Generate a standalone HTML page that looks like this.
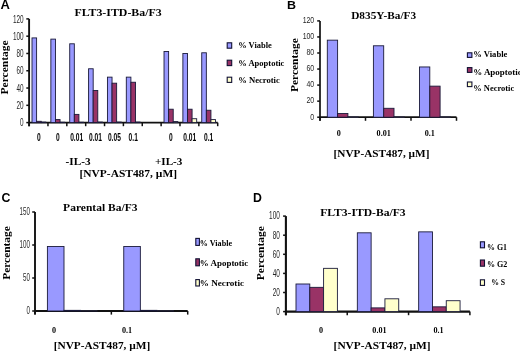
<!DOCTYPE html>
<html><head><meta charset="utf-8"><style>
html,body{margin:0;padding:0;background:#fff;}
body{width:520px;height:352px;overflow:hidden;}
svg{display:block;filter:blur(0.3px);}
</style></head><body>
<svg width="520" height="352" viewBox="0 0 520 352">
<rect width="520" height="352" fill="#fff"/>
<text x="0.60" y="9.40" font-family='"Liberation Sans", sans-serif' font-size="13" font-weight="bold">A</text>
<text x="74.40" y="15.80" font-family='"Liberation Serif", serif' font-size="10.2" font-weight="bold" textLength="87.30" lengthAdjust="spacingAndGlyphs">FLT3-ITD-Ba/F3</text>
<text transform="translate(7.90,94.40) rotate(-90)" x="0" y="0" font-family='"Liberation Serif", serif' font-size="9.8" font-weight="bold" textLength="54.00" lengthAdjust="spacingAndGlyphs">Percentage</text>
<line x1="29.10" y1="18.90" x2="29.10" y2="126.20" stroke="#111" stroke-width="1.9"/>
<line x1="29.10" y1="122.60" x2="217.70" y2="122.60" stroke="#111" stroke-width="1.9"/>
<line x1="26.30" y1="122.60" x2="29.10" y2="122.60" stroke="#111" stroke-width="1.5"/>
<text x="20.05" y="126.32" font-family='"Liberation Sans", sans-serif' font-size="10.2" textLength="3.55" lengthAdjust="spacingAndGlyphs" fill="#262626">0</text>
<line x1="26.30" y1="105.32" x2="29.10" y2="105.32" stroke="#111" stroke-width="1.5"/>
<text x="16.50" y="109.04" font-family='"Liberation Sans", sans-serif' font-size="10.2" textLength="7.10" lengthAdjust="spacingAndGlyphs" fill="#262626">20</text>
<line x1="26.30" y1="88.03" x2="29.10" y2="88.03" stroke="#111" stroke-width="1.5"/>
<text x="16.50" y="91.75" font-family='"Liberation Sans", sans-serif' font-size="10.2" textLength="7.10" lengthAdjust="spacingAndGlyphs" fill="#262626">40</text>
<line x1="26.30" y1="70.75" x2="29.10" y2="70.75" stroke="#111" stroke-width="1.5"/>
<text x="16.50" y="74.47" font-family='"Liberation Sans", sans-serif' font-size="10.2" textLength="7.10" lengthAdjust="spacingAndGlyphs" fill="#262626">60</text>
<line x1="26.30" y1="53.47" x2="29.10" y2="53.47" stroke="#111" stroke-width="1.5"/>
<text x="16.50" y="57.19" font-family='"Liberation Sans", sans-serif' font-size="10.2" textLength="7.10" lengthAdjust="spacingAndGlyphs" fill="#262626">80</text>
<line x1="26.30" y1="36.18" x2="29.10" y2="36.18" stroke="#111" stroke-width="1.5"/>
<text x="12.95" y="39.90" font-family='"Liberation Sans", sans-serif' font-size="10.2" textLength="10.65" lengthAdjust="spacingAndGlyphs" fill="#262626">100</text>
<line x1="26.30" y1="18.90" x2="29.10" y2="18.90" stroke="#111" stroke-width="1.5"/>
<text x="12.95" y="22.62" font-family='"Liberation Sans", sans-serif' font-size="10.2" textLength="10.65" lengthAdjust="spacingAndGlyphs" fill="#262626">120</text>
<line x1="29.10" y1="122.60" x2="29.10" y2="126.20" stroke="#111" stroke-width="1.5"/>
<line x1="47.96" y1="122.60" x2="47.96" y2="126.20" stroke="#111" stroke-width="1.5"/>
<line x1="66.82" y1="122.60" x2="66.82" y2="126.20" stroke="#111" stroke-width="1.5"/>
<line x1="85.68" y1="122.60" x2="85.68" y2="126.20" stroke="#111" stroke-width="1.5"/>
<line x1="104.54" y1="122.60" x2="104.54" y2="126.20" stroke="#111" stroke-width="1.5"/>
<line x1="123.40" y1="122.60" x2="123.40" y2="126.20" stroke="#111" stroke-width="1.5"/>
<line x1="142.26" y1="122.60" x2="142.26" y2="126.20" stroke="#111" stroke-width="1.5"/>
<line x1="161.12" y1="122.60" x2="161.12" y2="126.20" stroke="#111" stroke-width="1.5"/>
<line x1="179.98" y1="122.60" x2="179.98" y2="126.20" stroke="#111" stroke-width="1.5"/>
<line x1="198.84" y1="122.60" x2="198.84" y2="126.20" stroke="#111" stroke-width="1.5"/>
<line x1="217.70" y1="122.60" x2="217.70" y2="126.20" stroke="#111" stroke-width="1.5"/>
<rect x="32.00" y="37.91" width="4.60" height="84.69" fill="#9999FF" stroke="#1a1a3a" stroke-width="0.9"/>
<rect x="36.60" y="121.30" width="4.60" height="1.30" fill="#993366" stroke="#1a1a3a" stroke-width="0.9"/>
<rect x="41.20" y="122.08" width="4.60" height="0.52" fill="#FFFFCC" stroke="#1a1a3a" stroke-width="0.9"/>
<rect x="50.86" y="39.12" width="4.60" height="83.48" fill="#9999FF" stroke="#1a1a3a" stroke-width="0.9"/>
<rect x="55.46" y="119.58" width="4.60" height="3.02" fill="#993366" stroke="#1a1a3a" stroke-width="0.9"/>
<rect x="60.06" y="122.25" width="4.60" height="0.35" fill="#FFFFCC" stroke="#1a1a3a" stroke-width="0.9"/>
<rect x="69.72" y="43.79" width="4.60" height="78.81" fill="#9999FF" stroke="#1a1a3a" stroke-width="0.9"/>
<rect x="74.32" y="114.39" width="4.60" height="8.21" fill="#993366" stroke="#1a1a3a" stroke-width="0.9"/>
<rect x="78.92" y="122.25" width="4.60" height="0.35" fill="#FFFFCC" stroke="#1a1a3a" stroke-width="0.9"/>
<rect x="88.58" y="68.76" width="4.60" height="53.84" fill="#9999FF" stroke="#1a1a3a" stroke-width="0.9"/>
<rect x="93.18" y="90.45" width="4.60" height="32.15" fill="#993366" stroke="#1a1a3a" stroke-width="0.9"/>
<rect x="97.78" y="122.08" width="4.60" height="0.52" fill="#FFFFCC" stroke="#1a1a3a" stroke-width="0.9"/>
<rect x="107.44" y="77.14" width="4.60" height="45.46" fill="#9999FF" stroke="#1a1a3a" stroke-width="0.9"/>
<rect x="112.04" y="83.19" width="4.60" height="39.41" fill="#993366" stroke="#1a1a3a" stroke-width="0.9"/>
<rect x="116.64" y="122.08" width="4.60" height="0.52" fill="#FFFFCC" stroke="#1a1a3a" stroke-width="0.9"/>
<rect x="126.30" y="77.14" width="4.60" height="45.46" fill="#9999FF" stroke="#1a1a3a" stroke-width="0.9"/>
<rect x="130.90" y="82.24" width="4.60" height="40.36" fill="#993366" stroke="#1a1a3a" stroke-width="0.9"/>
<rect x="135.50" y="122.08" width="4.60" height="0.52" fill="#FFFFCC" stroke="#1a1a3a" stroke-width="0.9"/>
<rect x="164.02" y="51.48" width="4.60" height="71.12" fill="#9999FF" stroke="#1a1a3a" stroke-width="0.9"/>
<rect x="168.62" y="109.21" width="4.60" height="13.39" fill="#993366" stroke="#1a1a3a" stroke-width="0.9"/>
<rect x="173.22" y="121.56" width="4.60" height="1.04" fill="#FFFFCC" stroke="#1a1a3a" stroke-width="0.9"/>
<rect x="182.88" y="53.47" width="4.60" height="69.13" fill="#9999FF" stroke="#1a1a3a" stroke-width="0.9"/>
<rect x="187.48" y="109.21" width="4.60" height="13.39" fill="#993366" stroke="#1a1a3a" stroke-width="0.9"/>
<rect x="192.08" y="118.71" width="4.60" height="3.89" fill="#FFFFCC" stroke="#1a1a3a" stroke-width="0.9"/>
<rect x="201.74" y="52.78" width="4.60" height="69.82" fill="#9999FF" stroke="#1a1a3a" stroke-width="0.9"/>
<rect x="206.34" y="110.24" width="4.60" height="12.36" fill="#993366" stroke="#1a1a3a" stroke-width="0.9"/>
<rect x="210.94" y="119.58" width="4.60" height="3.02" fill="#FFFFCC" stroke="#1a1a3a" stroke-width="0.9"/>
<text x="37.08" y="141.30" font-family='"Liberation Sans", sans-serif' font-size="10.3" font-weight="bold" textLength="3.69" lengthAdjust="spacingAndGlyphs">0</text>
<text x="55.94" y="141.30" font-family='"Liberation Sans", sans-serif' font-size="10.3" font-weight="bold" textLength="3.69" lengthAdjust="spacingAndGlyphs">0</text>
<text x="70.18" y="141.30" font-family='"Liberation Sans", sans-serif' font-size="10.3" font-weight="bold" textLength="12.93" lengthAdjust="spacingAndGlyphs">0.01</text>
<text x="89.04" y="141.30" font-family='"Liberation Sans", sans-serif' font-size="10.3" font-weight="bold" textLength="12.93" lengthAdjust="spacingAndGlyphs">0.01</text>
<text x="107.90" y="141.30" font-family='"Liberation Sans", sans-serif' font-size="10.3" font-weight="bold" textLength="12.93" lengthAdjust="spacingAndGlyphs">0.05</text>
<text x="128.61" y="141.30" font-family='"Liberation Sans", sans-serif' font-size="10.3" font-weight="bold" textLength="9.24" lengthAdjust="spacingAndGlyphs">0.1</text>
<text x="169.10" y="141.30" font-family='"Liberation Sans", sans-serif' font-size="10.3" font-weight="bold" textLength="3.69" lengthAdjust="spacingAndGlyphs">0</text>
<text x="183.34" y="141.30" font-family='"Liberation Sans", sans-serif' font-size="10.3" font-weight="bold" textLength="12.93" lengthAdjust="spacingAndGlyphs">0.01</text>
<text x="204.05" y="141.30" font-family='"Liberation Sans", sans-serif' font-size="10.3" font-weight="bold" textLength="9.24" lengthAdjust="spacingAndGlyphs">0.1</text>
<rect x="227.20" y="42.80" width="4.50" height="5.40" fill="#9999FF" stroke="#111133" stroke-width="1.1"/>
<text x="238.20" y="48.10" font-family='"Liberation Serif", serif' font-size="8.8" font-weight="bold" textLength="33.60" lengthAdjust="spacingAndGlyphs">% Viable</text>
<rect x="227.20" y="60.20" width="4.50" height="5.40" fill="#993366" stroke="#111133" stroke-width="1.1"/>
<text x="238.20" y="65.80" font-family='"Liberation Serif", serif' font-size="8.8" font-weight="bold" textLength="46.20" lengthAdjust="spacingAndGlyphs">% Apoptotic</text>
<rect x="227.20" y="77.20" width="4.50" height="5.20" fill="#FFFFCC" stroke="#111133" stroke-width="1.1"/>
<text x="238.20" y="83.40" font-family='"Liberation Serif", serif' font-size="8.8" font-weight="bold" textLength="41.60" lengthAdjust="spacingAndGlyphs">% Necrotic</text>
<text x="65.60" y="164.60" font-family='"Liberation Serif", serif' font-size="10.4" font-weight="bold" textLength="25.00" lengthAdjust="spacingAndGlyphs">-IL-3</text>
<text x="155.00" y="164.60" font-family='"Liberation Serif", serif' font-size="10.4" font-weight="bold" textLength="27.40" lengthAdjust="spacingAndGlyphs">+IL-3</text>
<text x="79.50" y="176.60" font-family='"Liberation Serif", serif' font-size="11.0" font-weight="bold" textLength="97.50" lengthAdjust="spacingAndGlyphs">[NVP-AST487, µM]</text>
<text x="287.00" y="9.30" font-family='"Liberation Sans", sans-serif' font-size="10.5" font-weight="bold" textLength="9.00" lengthAdjust="spacingAndGlyphs">B</text>
<text x="351.20" y="18.70" font-family='"Liberation Serif", serif' font-size="10.4" font-weight="bold" textLength="64.90" lengthAdjust="spacingAndGlyphs">D835Y-Ba/F3</text>
<text transform="translate(298.10,91.90) rotate(-90)" x="0" y="0" font-family='"Liberation Serif", serif' font-size="9.8" font-weight="bold" textLength="53.60" lengthAdjust="spacingAndGlyphs">Percentage</text>
<line x1="320.00" y1="20.90" x2="320.00" y2="120.80" stroke="#111" stroke-width="1.7"/>
<line x1="320.00" y1="117.20" x2="456.50" y2="117.20" stroke="#111" stroke-width="1.7"/>
<line x1="317.20" y1="117.20" x2="320.00" y2="117.20" stroke="#111" stroke-width="1.5"/>
<text x="310.35" y="119.54" font-family='"Liberation Sans", sans-serif' font-size="9.4" textLength="3.85" lengthAdjust="spacingAndGlyphs" fill="#262626">0</text>
<line x1="317.20" y1="101.15" x2="320.00" y2="101.15" stroke="#111" stroke-width="1.5"/>
<text x="306.50" y="103.49" font-family='"Liberation Sans", sans-serif' font-size="9.4" textLength="7.70" lengthAdjust="spacingAndGlyphs" fill="#262626">20</text>
<line x1="317.20" y1="85.10" x2="320.00" y2="85.10" stroke="#111" stroke-width="1.5"/>
<text x="306.50" y="87.44" font-family='"Liberation Sans", sans-serif' font-size="9.4" textLength="7.70" lengthAdjust="spacingAndGlyphs" fill="#262626">40</text>
<line x1="317.20" y1="69.05" x2="320.00" y2="69.05" stroke="#111" stroke-width="1.5"/>
<text x="306.50" y="71.39" font-family='"Liberation Sans", sans-serif' font-size="9.4" textLength="7.70" lengthAdjust="spacingAndGlyphs" fill="#262626">60</text>
<line x1="317.20" y1="53.00" x2="320.00" y2="53.00" stroke="#111" stroke-width="1.5"/>
<text x="306.50" y="55.34" font-family='"Liberation Sans", sans-serif' font-size="9.4" textLength="7.70" lengthAdjust="spacingAndGlyphs" fill="#262626">80</text>
<line x1="317.20" y1="36.95" x2="320.00" y2="36.95" stroke="#111" stroke-width="1.5"/>
<text x="302.65" y="39.29" font-family='"Liberation Sans", sans-serif' font-size="9.4" textLength="11.55" lengthAdjust="spacingAndGlyphs" fill="#262626">100</text>
<line x1="317.20" y1="20.90" x2="320.00" y2="20.90" stroke="#111" stroke-width="1.5"/>
<text x="302.65" y="23.24" font-family='"Liberation Sans", sans-serif' font-size="9.4" textLength="11.55" lengthAdjust="spacingAndGlyphs" fill="#262626">120</text>
<line x1="320.00" y1="117.20" x2="320.00" y2="120.80" stroke="#111" stroke-width="1.5"/>
<line x1="365.50" y1="117.20" x2="365.50" y2="120.80" stroke="#111" stroke-width="1.5"/>
<line x1="411.00" y1="117.20" x2="411.00" y2="120.80" stroke="#111" stroke-width="1.5"/>
<line x1="456.50" y1="117.20" x2="456.50" y2="120.80" stroke="#111" stroke-width="1.5"/>
<rect x="327.30" y="40.16" width="10.30" height="77.04" fill="#9999FF" stroke="#1a1a3a" stroke-width="0.9"/>
<rect x="337.60" y="113.51" width="10.30" height="3.69" fill="#993366" stroke="#1a1a3a" stroke-width="0.9"/>
<rect x="347.90" y="116.96" width="10.30" height="0.24" fill="#FFFFCC" stroke="#1a1a3a" stroke-width="0.9"/>
<rect x="373.40" y="45.78" width="10.30" height="71.42" fill="#9999FF" stroke="#1a1a3a" stroke-width="0.9"/>
<rect x="383.70" y="108.29" width="10.30" height="8.91" fill="#993366" stroke="#1a1a3a" stroke-width="0.9"/>
<rect x="394.00" y="116.96" width="10.30" height="0.24" fill="#FFFFCC" stroke="#1a1a3a" stroke-width="0.9"/>
<rect x="419.50" y="66.96" width="10.30" height="50.24" fill="#9999FF" stroke="#1a1a3a" stroke-width="0.9"/>
<rect x="429.80" y="86.14" width="10.30" height="31.06" fill="#993366" stroke="#1a1a3a" stroke-width="0.9"/>
<rect x="440.10" y="116.96" width="10.30" height="0.24" fill="#FFFFCC" stroke="#1a1a3a" stroke-width="0.9"/>
<text x="336.77" y="135.90" font-family='"Liberation Serif", serif' font-size="7.9" font-weight="bold" textLength="4.07" lengthAdjust="spacingAndGlyphs">0</text>
<text x="376.58" y="135.90" font-family='"Liberation Serif", serif' font-size="7.9" font-weight="bold" textLength="14.24" lengthAdjust="spacingAndGlyphs">0.01</text>
<text x="424.71" y="135.90" font-family='"Liberation Serif", serif' font-size="7.9" font-weight="bold" textLength="10.17" lengthAdjust="spacingAndGlyphs">0.1</text>
<rect x="467.40" y="52.80" width="4.50" height="4.60" fill="#9999FF" stroke="#111133" stroke-width="1.1"/>
<text x="473.20" y="56.90" font-family='"Liberation Serif", serif' font-size="8.8" font-weight="bold" textLength="34.20" lengthAdjust="spacingAndGlyphs">% Viable</text>
<rect x="467.40" y="67.60" width="4.50" height="4.80" fill="#993366" stroke="#111133" stroke-width="1.1"/>
<text x="473.20" y="74.90" font-family='"Liberation Serif", serif' font-size="8.8" font-weight="bold" textLength="48.50" lengthAdjust="spacingAndGlyphs">% Apoptotic</text>
<rect x="467.40" y="82.00" width="4.50" height="4.60" fill="#FFFFCC" stroke="#111133" stroke-width="1.1"/>
<text x="473.20" y="91.30" font-family='"Liberation Serif", serif' font-size="8.8" font-weight="bold" textLength="41.00" lengthAdjust="spacingAndGlyphs">% Necrotic</text>
<text x="333.60" y="157.40" font-family='"Liberation Serif", serif' font-size="11.3" font-weight="bold" textLength="95.80" lengthAdjust="spacingAndGlyphs">[NVP-AST487, µM]</text>
<text x="1.40" y="202.30" font-family='"Liberation Sans", sans-serif' font-size="12.3" font-weight="bold">C</text>
<text x="63.10" y="211.40" font-family='"Liberation Serif", serif' font-size="11.4" font-weight="bold" textLength="74.40" lengthAdjust="spacingAndGlyphs">Parental Ba/F3</text>
<text transform="translate(10.30,279.80) rotate(-90)" x="0" y="0" font-family='"Liberation Serif", serif' font-size="9.8" font-weight="bold" textLength="53.60" lengthAdjust="spacingAndGlyphs">Percentage</text>
<line x1="35.00" y1="212.00" x2="35.00" y2="314.60" stroke="#111" stroke-width="1.9"/>
<line x1="35.00" y1="311.00" x2="187.70" y2="311.00" stroke="#111" stroke-width="1.9"/>
<line x1="32.20" y1="311.00" x2="35.00" y2="311.00" stroke="#111" stroke-width="1.5"/>
<text x="26.45" y="314.40" font-family='"Liberation Sans", sans-serif' font-size="11.0" textLength="3.45" lengthAdjust="spacingAndGlyphs" fill="#262626">0</text>
<line x1="32.20" y1="278.00" x2="35.00" y2="278.00" stroke="#111" stroke-width="1.5"/>
<text x="23.00" y="281.40" font-family='"Liberation Sans", sans-serif' font-size="11.0" textLength="6.90" lengthAdjust="spacingAndGlyphs" fill="#262626">50</text>
<line x1="32.20" y1="245.00" x2="35.00" y2="245.00" stroke="#111" stroke-width="1.5"/>
<text x="19.55" y="248.41" font-family='"Liberation Sans", sans-serif' font-size="11.0" textLength="10.35" lengthAdjust="spacingAndGlyphs" fill="#262626">100</text>
<line x1="32.20" y1="212.00" x2="35.00" y2="212.00" stroke="#111" stroke-width="1.5"/>
<text x="19.55" y="215.41" font-family='"Liberation Sans", sans-serif' font-size="11.0" textLength="10.35" lengthAdjust="spacingAndGlyphs" fill="#262626">150</text>
<line x1="35.00" y1="311.00" x2="35.00" y2="314.60" stroke="#111" stroke-width="1.5"/>
<line x1="111.35" y1="311.00" x2="111.35" y2="314.60" stroke="#111" stroke-width="1.5"/>
<line x1="187.70" y1="311.00" x2="187.70" y2="314.60" stroke="#111" stroke-width="1.5"/>
<rect x="47.40" y="246.52" width="16.60" height="64.48" fill="#9999FF" stroke="#1a1a3a" stroke-width="0.9"/>
<rect x="64.00" y="310.34" width="16.60" height="0.66" fill="#993366" stroke="#1a1a3a" stroke-width="0.9"/>
<rect x="80.60" y="310.87" width="16.60" height="0.13" fill="#FFFFCC" stroke="#1a1a3a" stroke-width="0.9"/>
<rect x="123.75" y="246.52" width="16.60" height="64.48" fill="#9999FF" stroke="#1a1a3a" stroke-width="0.9"/>
<rect x="140.35" y="310.34" width="16.60" height="0.66" fill="#993366" stroke="#1a1a3a" stroke-width="0.9"/>
<rect x="156.95" y="310.87" width="16.60" height="0.13" fill="#FFFFCC" stroke="#1a1a3a" stroke-width="0.9"/>
<text x="52.02" y="332.70" font-family='"Liberation Serif", serif' font-size="7.9" font-weight="bold" textLength="4.07" lengthAdjust="spacingAndGlyphs">0</text>
<text x="121.91" y="332.70" font-family='"Liberation Serif", serif' font-size="7.9" font-weight="bold" textLength="10.17" lengthAdjust="spacingAndGlyphs">0.1</text>
<rect x="195.80" y="238.40" width="3.60" height="7.00" fill="#9999FF" stroke="#111133" stroke-width="1.1"/>
<text x="199.80" y="245.50" font-family='"Liberation Serif", serif' font-size="8.2" font-weight="bold" textLength="32.20" lengthAdjust="spacingAndGlyphs">% Viable</text>
<rect x="195.80" y="258.80" width="3.60" height="7.00" fill="#993366" stroke="#111133" stroke-width="1.1"/>
<text x="199.80" y="266.00" font-family='"Liberation Serif", serif' font-size="8.2" font-weight="bold" textLength="48.50" lengthAdjust="spacingAndGlyphs">% Apoptotic</text>
<rect x="195.80" y="279.60" width="3.60" height="6.40" fill="#FFFFCC" stroke="#111133" stroke-width="1.1"/>
<text x="199.80" y="286.20" font-family='"Liberation Serif", serif' font-size="8.2" font-weight="bold" textLength="44.20" lengthAdjust="spacingAndGlyphs">% Necrotic</text>
<text x="53.70" y="348.60" font-family='"Liberation Serif", serif' font-size="11.3" font-weight="bold" textLength="96.60" lengthAdjust="spacingAndGlyphs">[NVP-AST487, µM]</text>
<text x="253.00" y="202.30" font-family='"Liberation Sans", sans-serif' font-size="12.3" font-weight="bold">D</text>
<text x="320.20" y="215.70" font-family='"Liberation Serif", serif' font-size="10.4" font-weight="bold" textLength="85.40" lengthAdjust="spacingAndGlyphs">FLT3-ITD-Ba/F3</text>
<text transform="translate(264.20,280.20) rotate(-90)" x="0" y="0" font-family='"Liberation Serif", serif' font-size="9.8" font-weight="bold" textLength="54.00" lengthAdjust="spacingAndGlyphs">Percentage</text>
<line x1="285.90" y1="216.10" x2="285.90" y2="315.20" stroke="#111" stroke-width="2.1"/>
<line x1="285.90" y1="311.60" x2="469.89" y2="311.60" stroke="#111" stroke-width="2.1"/>
<line x1="283.10" y1="311.60" x2="285.90" y2="311.60" stroke="#111" stroke-width="1.5"/>
<text x="276.30" y="314.96" font-family='"Liberation Sans", sans-serif' font-size="10.6" textLength="3.60" lengthAdjust="spacingAndGlyphs" fill="#262626">0</text>
<line x1="283.10" y1="292.50" x2="285.90" y2="292.50" stroke="#111" stroke-width="1.5"/>
<text x="272.70" y="295.86" font-family='"Liberation Sans", sans-serif' font-size="10.6" textLength="7.20" lengthAdjust="spacingAndGlyphs" fill="#262626">20</text>
<line x1="283.10" y1="273.40" x2="285.90" y2="273.40" stroke="#111" stroke-width="1.5"/>
<text x="272.70" y="276.76" font-family='"Liberation Sans", sans-serif' font-size="10.6" textLength="7.20" lengthAdjust="spacingAndGlyphs" fill="#262626">40</text>
<line x1="283.10" y1="254.30" x2="285.90" y2="254.30" stroke="#111" stroke-width="1.5"/>
<text x="272.70" y="257.66" font-family='"Liberation Sans", sans-serif' font-size="10.6" textLength="7.20" lengthAdjust="spacingAndGlyphs" fill="#262626">60</text>
<line x1="283.10" y1="235.20" x2="285.90" y2="235.20" stroke="#111" stroke-width="1.5"/>
<text x="272.70" y="238.56" font-family='"Liberation Sans", sans-serif' font-size="10.6" textLength="7.20" lengthAdjust="spacingAndGlyphs" fill="#262626">80</text>
<line x1="283.10" y1="216.10" x2="285.90" y2="216.10" stroke="#111" stroke-width="1.5"/>
<text x="269.10" y="219.46" font-family='"Liberation Sans", sans-serif' font-size="10.6" textLength="10.80" lengthAdjust="spacingAndGlyphs" fill="#262626">100</text>
<line x1="285.90" y1="311.60" x2="285.90" y2="315.20" stroke="#111" stroke-width="1.5"/>
<line x1="347.23" y1="311.60" x2="347.23" y2="315.20" stroke="#111" stroke-width="1.5"/>
<line x1="408.56" y1="311.60" x2="408.56" y2="315.20" stroke="#111" stroke-width="1.5"/>
<line x1="469.89" y1="311.60" x2="469.89" y2="315.20" stroke="#111" stroke-width="1.5"/>
<rect x="296.00" y="284.00" width="13.80" height="27.60" fill="#9999FF" stroke="#1a1a3a" stroke-width="0.9"/>
<rect x="309.80" y="287.34" width="13.80" height="24.26" fill="#993366" stroke="#1a1a3a" stroke-width="0.9"/>
<rect x="323.60" y="268.34" width="13.80" height="43.26" fill="#FFFFCC" stroke="#1a1a3a" stroke-width="0.9"/>
<rect x="357.33" y="232.81" width="13.80" height="78.79" fill="#9999FF" stroke="#1a1a3a" stroke-width="0.9"/>
<rect x="371.13" y="307.88" width="13.80" height="3.72" fill="#993366" stroke="#1a1a3a" stroke-width="0.9"/>
<rect x="384.93" y="298.80" width="13.80" height="12.80" fill="#FFFFCC" stroke="#1a1a3a" stroke-width="0.9"/>
<rect x="418.66" y="231.86" width="13.80" height="79.74" fill="#9999FF" stroke="#1a1a3a" stroke-width="0.9"/>
<rect x="432.46" y="306.83" width="13.80" height="4.77" fill="#993366" stroke="#1a1a3a" stroke-width="0.9"/>
<rect x="446.26" y="300.71" width="13.80" height="10.89" fill="#FFFFCC" stroke="#1a1a3a" stroke-width="0.9"/>
<text x="318.97" y="332.70" font-family='"Liberation Serif", serif' font-size="7.9" font-weight="bold" textLength="4.07" lengthAdjust="spacingAndGlyphs">0</text>
<text x="372.38" y="332.70" font-family='"Liberation Serif", serif' font-size="7.9" font-weight="bold" textLength="14.24" lengthAdjust="spacingAndGlyphs">0.01</text>
<text x="433.41" y="332.70" font-family='"Liberation Serif", serif' font-size="7.9" font-weight="bold" textLength="10.17" lengthAdjust="spacingAndGlyphs">0.1</text>
<rect x="480.40" y="241.80" width="4.10" height="6.00" fill="#9999FF" stroke="#111133" stroke-width="1.1"/>
<text x="487.00" y="249.70" font-family='"Liberation Serif", serif' font-size="8.2" font-weight="bold" textLength="20.00" lengthAdjust="spacingAndGlyphs">% G1</text>
<rect x="480.40" y="260.00" width="4.10" height="6.20" fill="#993366" stroke="#111133" stroke-width="1.1"/>
<text x="487.00" y="267.10" font-family='"Liberation Serif", serif' font-size="8.2" font-weight="bold" textLength="20.40" lengthAdjust="spacingAndGlyphs">% G2</text>
<rect x="480.40" y="279.80" width="4.10" height="5.60" fill="#FFFFCC" stroke="#111133" stroke-width="1.1"/>
<text x="491.20" y="284.80" font-family='"Liberation Serif", serif' font-size="8.2" font-weight="bold" textLength="14.00" lengthAdjust="spacingAndGlyphs">% S</text>
<text x="333.60" y="348.50" font-family='"Liberation Serif", serif' font-size="11.3" font-weight="bold" textLength="97.00" lengthAdjust="spacingAndGlyphs">[NVP-AST487, µM]</text>
</svg>
</body></html>
